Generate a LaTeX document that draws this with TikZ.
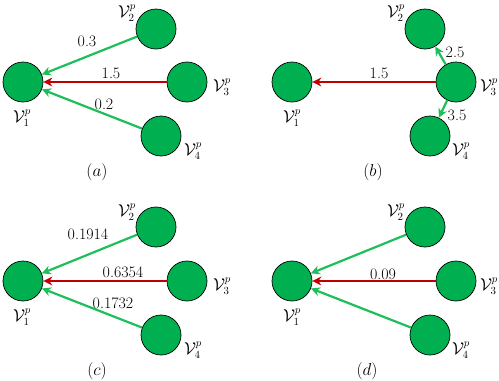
\documentclass[tikz,border=0pt]{standalone}
\usepackage{amsmath,amsfonts}
\usetikzlibrary{arrows.meta,shapes}
\definecolor{vgreen}{HTML}{00B050}
\definecolor{egreen}{HTML}{1CBF5A}
\definecolor{ered}{HTML}{C00000}
\tikzstyle{vnode}=[circle,draw=black,fill=vgreen,line width=0.7pt,minimum size=40bp,inner sep=0pt]
\tikzstyle{garr}=[-{Stealth[length=9bp,width=9bp]}, draw=egreen, line width=2.2bp]
\tikzstyle{rarr}=[-{Stealth[length=9bp,width=9bp]}, draw=ered, line width=2.2bp]
\tikzstyle{txt}=[inner sep=0pt,font=\fontsize{16}{18}\selectfont]

\begin{document}
\begin{tikzpicture}[x=1bp,y=-1bp]
\useasboundingbox (0,0) rectangle (499,380);
% (a)
\node[vnode] (A1) at (23,82) {};
\node[vnode] (A2) at (156,29) {};
\node[vnode] (A3) at (187,82) {};
\node[vnode] (A4) at (161,136) {};
\node[txt] (lA1) at (22,118) {$\mathcal{V}_1^p$};
\node[txt] (lA2) at (127,13) {$\mathcal{V}_2^p$};
\node[txt] (lA3) at (222,87) {$\mathcal{V}_3^p$};
\node[txt] (lA4) at (193,151) {$\mathcal{V}_4^p$};
\draw[garr] (A2)--(A1);\draw[rarr] (A3)--(A1);\draw[garr] (A4)--(A1);
\node[txt] (wA2) at (87,41) {0.3};
\node[txt] (wA3) at (111,73) {1.5};
\node[txt] (wA4) at (104,104) {0.2};
\node[txt] (capA) at (97,172) {$(a)$};
% (b)
\node[vnode] (B1) at (292,82) {};
\node[vnode] (B2) at (425,29) {};
\node[vnode] (B3) at (456,82) {};
\node[vnode] (B4) at (430,136) {};
\node[txt] (lB1) at (292,118) {$\mathcal{V}_1^p$};
\node[txt] (lB2) at (396,13) {$\mathcal{V}_2^p$};
\node[txt] (lB3) at (489,87) {$\mathcal{V}_3^p$};
\node[txt] (lB4) at (461,151) {$\mathcal{V}_4^p$};
\draw[rarr] (B3)--(B1);\draw[garr] (B3)--(B2);\draw[garr] (B3)--(B4);
\node[txt] (wB1) at (379,73) {1.5};
\node[txt] (wB2) at (455,52) {2.5};
\node[txt] (wB4) at (457,115) {3.5};
\node[txt] (capB) at (373,172) {$(b)$};
% (c)
\node[vnode] (C1) at (23,281) {};
\node[vnode] (C2) at (156,227) {};
\node[vnode] (C3) at (187,281) {};
\node[vnode] (C4) at (161,335) {};
\node[txt] (lC1) at (22,317) {$\mathcal{V}_1^p$};
\node[txt] (lC2) at (127,212) {$\mathcal{V}_2^p$};
\node[txt] (lC3) at (222,286) {$\mathcal{V}_3^p$};
\node[txt] (lC4) at (193,350) {$\mathcal{V}_4^p$};
\draw[garr] (C2)--(C1);\draw[rarr] (C3)--(C1);\draw[garr] (C4)--(C1);
\node[txt] (wC2) at (88,234) {0.1914};
\node[txt] (wC3) at (123,272) {0.6354};
\node[txt] (wC4) at (113,303) {0.1732};
\node[txt] (capC) at (97,371) {$(c)$};
% (d)
\node[vnode] (D1) at (292,281) {};
\node[vnode] (D2) at (425,227) {};
\node[vnode] (D3) at (456,281) {};
\node[vnode] (D4) at (430,335) {};
\node[txt] (lD1) at (292,317) {$\mathcal{V}_1^p$};
\node[txt] (lD2) at (396,212) {$\mathcal{V}_2^p$};
\node[txt] (lD3) at (489,286) {$\mathcal{V}_3^p$};
\node[txt] (lD4) at (461,350) {$\mathcal{V}_4^p$};
\draw[garr] (D2)--(D1);\draw[rarr] (D3)--(D1);\draw[garr] (D4)--(D1);
\node[txt] (wD3) at (383,274) {0.09};
\node[txt] (capD) at (367,371) {$(d)$};
\end{tikzpicture}
\end{document}
